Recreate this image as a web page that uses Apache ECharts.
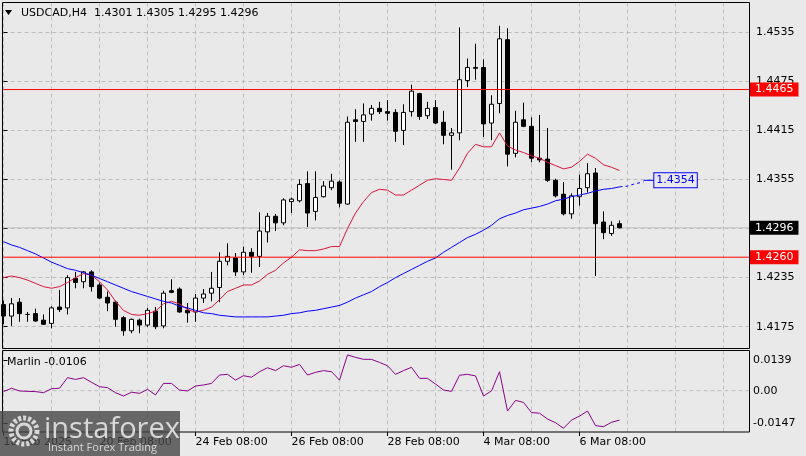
<!DOCTYPE html>
<html><head><meta charset="utf-8">
<script src="https://cdn.jsdelivr.net/npm/echarts@6.0.0/dist/echarts.min.js"></script>
<style>html,body{margin:0;padding:0;background:#e9e9e9}#c{width:806px;height:456px}</style>
</head><body><div id="c"></div><script>
const symbol = 'USDCAD,H4';
const opens = [1.4202,1.4188,1.4205,1.4190,1.4191,1.4183,1.4179,1.4199,1.4198,1.4234,
1.4230,1.4242,1.4226,1.4211,1.4205,1.4186,1.4170,1.4183,1.4177,1.4194,
1.4176,1.4219,1.4221,1.4195,1.4193,1.4210,1.4216,1.4223,1.4255,1.4259,
1.4242,1.4266,1.4261,1.4291,1.4310,1.4302,1.4328,1.4329,1.4350,1.4316,
1.4334,1.4345,1.4352,1.4325,1.4428,1.4426,1.4435,1.4442,1.4438,1.4437,
1.4415,1.4438,1.4460,1.4433,1.4443,1.4425,1.4409,1.4412,1.4476,1.4492,
1.4492,1.4424,1.4448,1.4526,1.4387,1.4428,1.4420,1.4381,1.4380,1.4354,
1.4337,1.4313,1.4334,1.4345,1.4363,1.4303,1.4289,1.4301];
const highs = [1.4207,1.4210,1.4210,1.4193,1.4197,1.4190,1.4200,1.4220,1.4238,1.4242,
1.4243,1.4244,1.4229,1.4218,1.4207,1.4188,1.4185,1.4185,1.4198,1.4199,
1.4219,1.4233,1.4223,1.4204,1.4215,1.4221,1.4242,1.4266,1.4277,1.4265,
1.4273,1.4271,1.4315,1.4314,1.4313,1.4332,1.4333,1.4355,1.4365,1.4365,
1.4353,1.4362,1.4354,1.4432,1.4441,1.4448,1.4446,1.4450,1.4452,1.4441,
1.4447,1.4471,1.4461,1.4450,1.4452,1.4439,1.4418,1.4541,1.4503,1.4521,
1.4502,1.4458,1.4543,1.4540,1.4439,1.4449,1.4431,1.4434,1.4418,1.4356,
1.4352,1.4338,1.4361,1.4375,1.4369,1.4316,1.4304,1.4305];
const lows = [1.4178,1.4176,1.4181,1.4181,1.4181,1.4177,1.4173,1.4193,1.4190,1.4222,
1.4222,1.4218,1.4209,1.4194,1.4175,1.4164,1.4167,1.4167,1.4175,1.4172,
1.4173,1.4216,1.4192,1.4180,1.4181,1.4204,1.4206,1.4205,1.4250,1.4237,
1.4238,1.4241,1.4248,1.4278,1.4292,1.4299,1.4314,1.4327,1.4297,1.4305,
1.4333,1.4342,1.4321,1.4324,1.4401,1.4401,1.4427,1.4435,1.4427,1.4401,
1.4397,1.4432,1.4428,1.4429,1.4423,1.4398,1.4367,1.4403,1.4468,1.4477,
1.4407,1.4403,1.4436,1.4371,1.4382,1.4419,1.4376,1.4376,1.4352,1.4333,
1.4311,1.4307,1.4323,1.4339,1.4237,1.4282,1.4286,1.4295];
const closes = [1.4188,1.4203,1.4191,1.4190,1.4182,1.4178,1.4198,1.4196,1.4235,1.4229,
1.4242,1.4224,1.4210,1.4204,1.4184,1.4170,1.4184,1.4177,1.4195,1.4175,
1.4216,1.4217,1.4193,1.4192,1.4210,1.4215,1.4222,1.4255,1.4261,1.4242,
1.4266,1.4261,1.4292,1.4310,1.4302,1.4330,1.4331,1.4349,1.4314,1.4333,
1.4347,1.4353,1.4326,1.4425,1.4426,1.4434,1.4442,1.4438,1.4436,1.4414,
1.4437,1.4463,1.4432,1.4442,1.4424,1.4409,1.4412,1.4477,1.4492,1.4491,
1.4423,1.4447,1.4527,1.4386,1.4425,1.4420,1.4381,1.4379,1.4354,1.4335,
1.4313,1.4335,1.4344,1.4362,1.4301,1.4290,1.4299,1.4296];
const maRed = [1.4235,1.4237,1.4235,1.4232,1.4228,1.4224,1.4222,1.4224,1.4229,1.4235,
1.4240,1.4238,1.4230,1.4220,1.4206,1.4195,1.4190,1.4189,1.4191,1.4194,
1.4203,1.4206,1.4203,1.4196,1.4193,1.4195,1.4199,1.4208,1.4218,1.4222,
1.4226,1.4226,1.4231,1.4239,1.4244,1.4253,1.4260,1.4269,1.4268,1.4268,
1.4270,1.4273,1.4273,1.4295,1.4314,1.4328,1.4339,1.4343,1.4342,1.4336,
1.4336,1.4342,1.4348,1.4354,1.4356,1.4355,1.4354,1.4369,1.4387,1.4398,
1.4395,1.4395,1.4412,1.4396,1.4391,1.4388,1.4384,1.4381,1.4376,1.4372,
1.4368,1.4370,1.4377,1.4386,1.4381,1.4373,1.4370,1.4366];
const maBlue = [1.4279,1.4275,1.4272,1.4268,1.4264,1.4259,1.4254,1.4250,1.4246,1.4244,
1.4241,1.4238,1.4234,1.4230,1.4226,1.4222,1.4218,1.4215,1.4212,1.4209,
1.4206,1.4204,1.4200,1.4198,1.4195,1.4192,1.4191,1.4189,1.4188,1.4187,
1.4187,1.4187,1.4187,1.4187,1.4188,1.4189,1.4191,1.4192,1.4194,1.4195,
1.4197,1.4199,1.4201,1.4205,1.4210,1.4214,1.4218,1.4224,1.4229,1.4235,
1.4240,1.4245,1.4250,1.4255,1.4259,1.4266,1.4272,1.4278,1.4284,1.4288,
1.4293,1.4299,1.4307,1.4311,1.4314,1.4318,1.4320,1.4322,1.4325,1.4329,
1.4331,1.4334,1.4336,1.4338,1.4341,1.4343,1.4344,1.4346];
const maBlueExtX = [77,78,79,80];
const maBlueExt = [1.4346,1.4347,1.4350,1.4352];
const maBlueTagX = [80,81.35];
const maBlueTag = 1.4354;
const levels = [1.4260,1.4465];
const bidPrice = 1.4296;
const marlin = [-0.0004,0.0011,-0.0001,-0.0003,-0.0004,-0.0009,0.0009,0.0011,0.0059,0.0051,
0.0059,0.0038,0.0018,0.0014,-0.0009,-0.0024,-0.0007,-0.0012,0.0006,-0.0019,
0.0033,0.0033,0.0003,-0.0001,0.0021,0.0026,0.0033,0.0071,0.0074,0.0048,
0.0068,0.0061,0.0086,0.0104,0.0091,0.0113,0.0106,0.0119,0.0071,0.0083,
0.0091,0.0086,0.0048,0.0162,0.0151,0.0142,0.0142,0.0128,0.0113,0.0074,
0.0091,0.0106,0.0056,0.0056,0.0030,0.0003,-0.0003,0.0070,0.0074,0.0067,
-0.0024,-0.0001,0.0086,-0.0092,-0.0044,-0.0053,-0.0099,-0.0102,-0.0128,-0.0145,
-0.0170,-0.0133,-0.0115,-0.0092,-0.0158,-0.0163,-0.0143,-0.0133];
const marlinTitle = 'Marlin -0.0106';
const xLabelIdx = [0,12,24,36,48,60,72];
const xLabels = ['18 Feb 2025','20 Feb 08:00','24 Feb 08:00','26 Feb 08:00','28 Feb 08:00','4 Mar 08:00','6 Mar 08:00'];
const yTicks = [1.4175,1.4235,1.4295,1.4355,1.4415,1.4475,1.4535];
const marlinTicks = [0.0139,0,-0.0147];
const marlinTickLabels = ['0.0139','0.00','-0.0147'];

const FONT = 'DejaVu Sans';
const GRIDC = '#bdbdbd';
const N = opens.length;
const candle = opens.map((o,i)=>[i,o,closes[i],lows[i],highs[i]]);
const dashed = {show:true,lineStyle:{color:GRIDC,type:[4,3],width:1}};
const XMIN = 0, XMAX = 93.1875;

const chart = echarts.init(document.getElementById('c'),null,{renderer:'canvas'});
const hLine = (v,color,bg,z)=>({type:'line',xAxisIndex:0,yAxisIndex:0,data:[[XMIN,v],[XMAX,v]],symbol:'none',z:z,silent:true,
  color:color,itemStyle:{color:color},
  lineStyle:{color:color,width:1,type:'solid',opacity:1},
  endLabel:{show:true,distance:1,formatter:()=>v.toFixed(4),backgroundColor:bg,color:'#fff',padding:[1,5,0,5],
    fontSize:11,fontFamily:FONT,lineHeight:13}});
chart.setOption({
  animation:false,
  backgroundColor:'#e9e9e9',
  textStyle:{fontFamily:FONT},
  grid:[{left:3.5,right:57,top:2.5,height:345.5},{left:3.5,right:57,top:350.5,height:81.5}],
  xAxis:[
    {type:'value',gridIndex:0,position:'bottom',min:XMIN,max:XMAX,interval:6,axisLine:{show:false},axisTick:{show:false},axisLabel:{show:false},splitLine:dashed},
    {type:'value',gridIndex:1,position:'bottom',min:XMIN,max:XMAX,interval:6,axisLine:{show:false},axisTick:{show:false},axisLabel:{show:false},splitLine:dashed},
    {type:'value',gridIndex:1,position:'bottom',offset:0,min:XMIN,max:XMAX,axisLine:{show:false},splitLine:{show:false},
      axisTick:{show:true,length:4,customValues:xLabelIdx,lineStyle:{color:'#000'}},
      axisLabel:{show:true,customValues:xLabelIdx,align:'left',margin:5,color:'#000',fontSize:11,fontFamily:FONT,
        formatter:v=>xLabels[xLabelIdx.indexOf(Math.round(v))]||''}}
  ],
  yAxis:[
    {type:'value',gridIndex:0,position:'right',min:1.414896,max:1.457144,axisLine:{show:false},
      axisTick:{show:true,length:4,customValues:yTicks,lineStyle:{color:'#000'}},
      axisLabel:{show:true,customValues:yTicks,margin:7,color:'#000',fontSize:11,fontFamily:FONT,formatter:v=>v.toFixed(4)},
      splitLine:dashed},
    {type:'value',gridIndex:1,position:'right',min:-0.018697,max:0.0182,axisLine:{show:false},
      axisTick:{show:true,length:4,customValues:marlinTicks,lineStyle:{color:'#000'}},
      axisLabel:{show:true,customValues:marlinTicks,margin:4,color:'#000',fontSize:11,fontFamily:FONT,
        formatter:v=>{const i=marlinTicks.findIndex(t=>Math.abs(t-v)<1e-7);return i>=0?marlinTickLabels[i]:'';}},
      splitLine:{show:false}}
  ],
  series:[
    hLine(bidPrice,'#c4c4c4','#000000',1),
    {type:'candlestick',xAxisIndex:0,yAxisIndex:0,data:candle,encode:{x:0,y:[1,2,3,4]},barWidth:4,z:2,
      itemStyle:{color:'#ffffff',color0:'#000000',borderColor:'#000000',borderColor0:'#000000',borderWidth:1}},
    {type:'line',xAxisIndex:0,yAxisIndex:0,data:maRed.map((v,i)=>[i,v]),symbol:'none',z:4,
      lineStyle:{color:'#dc143c',width:1}},
    {type:'line',xAxisIndex:0,yAxisIndex:0,data:maBlue.map((v,i)=>[i,v]),symbol:'none',z:4,
      lineStyle:{color:'#0000ff',width:1}},
    {type:'line',xAxisIndex:0,yAxisIndex:0,data:maBlueExt.map((v,i)=>[maBlueExtX[i],v]),symbol:'none',z:4,
      lineStyle:{color:'#0000ff',width:1,type:[3,3]}},
    {type:'line',xAxisIndex:0,yAxisIndex:0,data:maBlueTagX.map(x=>[x,maBlueTag]),symbol:'none',z:4,
      lineStyle:{color:'#0000ff',width:1},
      endLabel:{show:true,distance:0,formatter:()=>maBlueTag.toFixed(4),color:'#0000ff',fontSize:11,fontFamily:FONT,
        backgroundColor:'#e9e9e9',borderColor:'#0000ff',borderWidth:1,padding:[1,2,0,2],lineHeight:13}},
    hLine(levels[0],'#ff0000','#ff0000',5),
    hLine(levels[1],'#ff0000','#ff0000',5),
    {type:'line',xAxisIndex:1,yAxisIndex:1,data:[[XMIN,0],[XMAX,0]],symbol:'none',z:1,silent:true,
      lineStyle:{color:GRIDC,type:[4,3],width:1}},
    {type:'line',xAxisIndex:1,yAxisIndex:1,data:marlin.map((v,i)=>[i,v]),symbol:'none',z:4,
      lineStyle:{color:'#8b008b',width:1}}
  ],
  graphic:[
    {type:'rect',z:50,shape:{x:2.5,y:2.5,width:747,height:346},style:{fill:'none',stroke:'#000',lineWidth:1}},
    {type:'rect',z:50,shape:{x:2.5,y:350.5,width:747,height:81.5},style:{fill:'none',stroke:'#000',lineWidth:1}},
    {type:'polygon',z:50,shape:{points:[[5,10],[12,10],[8.5,15]]},style:{fill:'#000'}},
    {type:'text',z:50,x:21,y:13,style:{text:symbol+'  '+[opens[N-1],highs[N-1],lows[N-1],closes[N-1]].map(v=>v.toFixed(4)).join(' '),
      font:'11px "DejaVu Sans"',fill:'#000',verticalAlign:'middle'}},
    {type:'text',z:50,x:7,y:362,style:{text:marlinTitle,font:'11px "DejaVu Sans"',fill:'#000',verticalAlign:'middle'}},
    {type:'rect',z:60,shape:{x:0,y:411,width:180,height:45},style:{fill:'rgba(70,70,70,0.8)'}},
    {type:'circle',z:61,shape:{cx:24,cy:431,r:13},style:{fill:'none',stroke:'#d8d8d8',lineWidth:5,lineDash:[3,2]}},
    {type:'circle',z:61,shape:{cx:24,cy:431,r:7},style:{fill:'none',stroke:'#d8d8d8',lineWidth:3}},
    {type:'text',z:61,x:44,y:430,style:{text:'instaforex',font:'29px "Open Sans"',fill:'#d8d8d8',verticalAlign:'middle'}},
    {type:'text',z:61,x:48,y:448,style:{text:'Instant Forex Trading',font:'11px "Open Sans"',fill:'#d8d8d8',verticalAlign:'middle'}}
  ]
});
</script></body></html>
